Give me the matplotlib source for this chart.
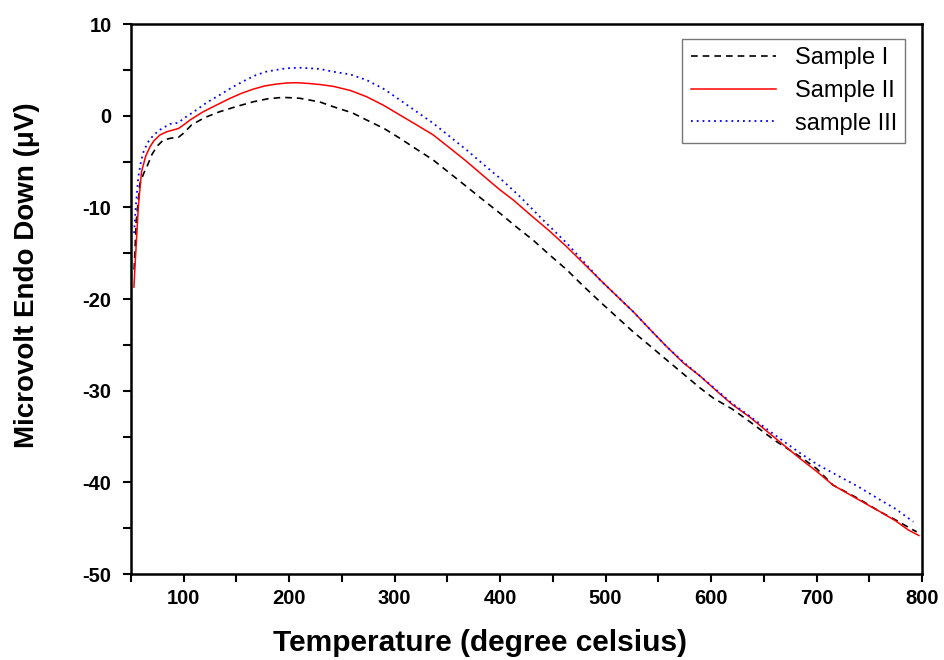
import numpy as np
import matplotlib
matplotlib.use("Agg")
import matplotlib.pyplot as plt
from matplotlib.ticker import MultipleLocator

plt.rcParams['font.family'] = ['Liberation Sans', 'DejaVu Sans']
plt.rcParams['axes.unicode_minus'] = False

# DSC traces: temperature (deg C) vs signal (microvolt, endo down)
t_s1 = [53, 55, 58.5, 62, 65, 70, 75, 80.7, 88, 95, 100, 107.5, 120, 134, 150, 166,
        180, 194, 210, 229, 241.8, 260, 273.4, 290, 305, 320, 336.6, 352, 368.3, 384,
        399.9, 415, 431.5, 447, 463.1, 479, 494.7, 510, 526.3, 542, 557.9, 574, 589.5,
        602, 620, 636.9, 660, 684.3, 700, 715.6, 740, 760.1, 775, 790, 795]
v_s1 = [-16.8, -11.5, -7.4, -6.3, -5.6, -4.2, -3.3, -2.65, -2.45, -2.36, -1.9, -1.0, -0.2, 0.43, 1.0, 1.52,
        1.85, 2.0, 1.9, 1.5, 0.98, 0.3, -0.47, -1.4, -2.47, -3.6, -4.84, -6.25, -7.75, -9.2,
        -10.65, -12.1, -13.6, -15.2, -16.8, -18.6, -20.3, -21.9, -23.6, -25.1, -26.65, -28.2, -29.7,
        -30.8, -32.0, -33.4, -35.4, -37.2, -38.5, -40.3, -41.8, -43.2, -44.1, -45.1, -45.4]

t_s2 = [52.8, 54, 55.5, 57, 60, 64, 68, 72, 77.5, 84, 90, 95, 100, 106, 118.5, 130,
        144, 155, 166, 177, 188, 198, 207, 218, 229, 241.8, 258, 273.4, 290, 305, 320,
        336.6, 352, 368.3, 384, 399.9, 412.5, 430, 447, 463.1, 479, 494.7, 510, 526.3,
        542, 557.9, 574, 589.5, 606.9, 620, 636.9, 660, 684.3, 700, 715.6, 740, 760.1,
        775, 787, 797]
v_s2 = [-18.7, -16.0, -13.0, -9.9, -6.1, -4.4, -3.4, -2.7, -2.1, -1.75, -1.56, -1.4, -1.0, -0.47, 0.43, 1.1,
        1.9, 2.45, 2.9, 3.25, 3.45, 3.57, 3.6, 3.52, 3.4, 3.2, 2.75, 2.07, 1.1, 0.07, -0.95,
        -2.1, -3.5, -5.0, -6.55, -8.1, -9.2, -10.95, -12.6, -14.3, -16.1, -17.9, -19.6, -21.4,
        -23.3, -25.2, -27.0, -28.4, -30.2, -31.5, -32.9, -35.1, -37.4, -38.8, -40.3, -41.9, -43.2,
        -44.2, -45.2, -45.8]

t_s3 = [53, 54.5, 57, 59.5, 62, 66, 71.5, 78, 87, 95, 100, 112, 122, 134, 146, 159,
        168, 178, 188, 197, 211, 229, 241.8, 258, 273.4, 290, 305, 320, 336.6, 352,
        368.3, 384, 399.9, 417.2, 423.6, 440, 463.1, 479, 494.7, 510, 526.3, 542, 557.9,
        574, 589.5, 606.9, 620, 636.9, 660, 684.3, 700, 722.2, 740, 760.1, 775, 791.7]
v_s3 = [-12.8, -10.0, -6.65, -5.0, -3.9, -2.9, -2.1, -1.5, -0.9, -0.77, -0.3, 0.62, 1.45, 2.25, 3.1, 3.9,
        4.4, 4.8, 5.0, 5.17, 5.23, 5.1, 4.8, 4.5, 3.89, 2.9, 1.71, 0.5, -0.83, -2.25,
        -3.75, -5.3, -6.83, -8.65, -9.38, -11.3, -13.9, -15.9, -17.9, -19.6, -21.4, -23.3, -25.2,
        -26.9, -28.4, -30.1, -31.4, -32.8, -34.8, -36.8, -38.0, -39.4, -40.5, -41.9, -42.9, -44.3]

fig = plt.figure(figsize=(9.45, 6.6), dpi=100)
ax = fig.add_axes([0.1386, 0.1303, 0.8371, 0.8333])

ax.plot(t_s1, v_s1, color='black', lw=1.2, ls=(0, (4, 3)), label='Sample I')
ax.plot(t_s2, v_s2, color='red', lw=1.1, ls='-', label='Sample II')
ax.plot(t_s3, v_s3, color='blue', lw=1.3, ls=(0, (1, 2.2)), label='sample III')

ax.set_xlim(50, 800)
ax.set_ylim(-50, 10)
ax.xaxis.set_major_locator(MultipleLocator(100))
ax.xaxis.set_minor_locator(MultipleLocator(50))
ax.yaxis.set_major_locator(MultipleLocator(10))
ax.yaxis.set_minor_locator(MultipleLocator(5))
ax.tick_params(which='both', direction='out', length=6, width=1.5,
               top=False, right=False)
ax.tick_params(which='major', labelsize=14.5)
ax.tick_params(axis='x', pad=5)
ax.tick_params(axis='y', pad=8)
for lab in ax.get_xticklabels() + ax.get_yticklabels():
    lab.set_fontweight('bold')
for sp in ax.spines.values():
    sp.set_linewidth(1.8)

ax.set_xlabel('Temperature (degree celsius)', fontsize=21.5, fontweight='bold')
ax.set_ylabel('Microvolt Endo Down (\u03bcV)', fontsize=20, fontweight='bold')
ax.xaxis.set_label_coords(0.441, -0.10)
ax.yaxis.set_label_coords(-0.115, 0.544)

leg = ax.legend(loc='upper right', bbox_to_anchor=(0.9785, 0.9727), fontsize=17,
                frameon=True, fancybox=False, handlelength=3.6, handletextpad=0.8,
                borderpad=0.35, labelspacing=0.45, borderaxespad=0)
leg.get_frame().set_edgecolor('#555555')
leg.get_frame().set_linewidth(1.0)

fig.savefig('out.png', dpi=100)
